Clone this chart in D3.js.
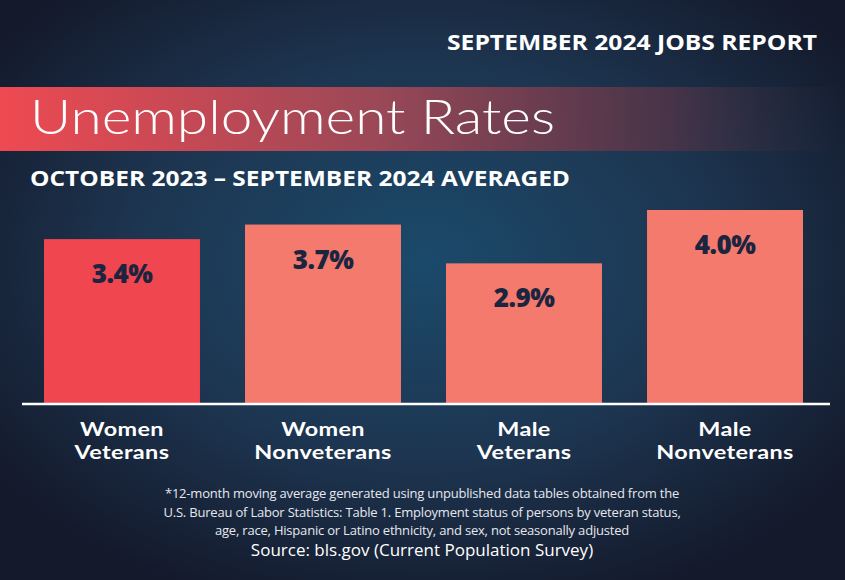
<!DOCTYPE html>
<html><head><meta charset="utf-8">
<script src="https://cdn.jsdelivr.net/npm/d3@7"></script>
<style>html,body{margin:0;padding:0;background:#151b2d;}svg{display:block;}</style>
</head><body>
<script>
const categories = [["Women","Veterans"],["Women","Nonveterans"],["Male","Veterans"],["Male","Nonveterans"]];
const values = [3.4, 3.7, 2.9, 4.0];
const valueLabels = ["3.4%","3.7%","2.9%","4.0%"];
const barColors = ["#ef4650","#f37a6d","#f37a6d","#f37a6d"];
const footnoteLines = [
 "*12-month moving average generated using unpublished data tables obtained from the",
 "U.S. Bureau of Labor Statistics: Table 1. Employment status of persons by veteran status,",
 "age, race, Hispanic or Latino ethnicity, and sex, not seasonally adjusted"
];

const W = 845, H = 580;
const svg = d3.select("body").append("svg").attr("width", W).attr("height", H);
const defs = svg.append("defs");
const rg = defs.append("radialGradient").attr("id","bg").attr("cx","0.5").attr("cy","0.45").attr("r","0.62");
rg.append("stop").attr("offset","0").attr("stop-color","#1b4a6b");
rg.append("stop").attr("offset","0.55").attr("stop-color","#1d3550");
rg.append("stop").attr("offset","1").attr("stop-color","#141a2c");
svg.append("rect").attr("width",W).attr("height",H).attr("fill","url(#bg)");

const lg = defs.append("linearGradient").attr("id","banner").attr("x1","0").attr("x2","1");
lg.append("stop").attr("offset","0").attr("stop-color","#ee4a52").attr("stop-opacity",1);
lg.append("stop").attr("offset","0.45").attr("stop-color","#9a4857").attr("stop-opacity",1);
lg.append("stop").attr("offset","0.8").attr("stop-color","#4a3448").attr("stop-opacity",0.9);
lg.append("stop").attr("offset","1").attr("stop-color","#2a2a3c").attr("stop-opacity",0);
svg.append("rect").attr("x",0).attr("y",87).attr("width",W).attr("height",64).attr("fill","url(#banner)");

svg.append("text").attr("x",817).attr("y",50).attr("text-anchor","end")
  .attr("fill","#fff").attr("font-family","Open Sans").attr("font-weight",700).attr("font-size",21)
  .attr("textLength",370).attr("lengthAdjust","spacingAndGlyphs")
  .text("SEPTEMBER 2024 JOBS REPORT");
svg.append("text").attr("x",30).attr("y",134)
  .attr("fill","#fff").attr("font-family","Lato").attr("font-weight",300).attr("font-size",48)
  .attr("textLength",525).attr("lengthAdjust","spacingAndGlyphs")
  .text("Unemployment Rates");
svg.append("text").attr("x",30).attr("y",186)
  .attr("fill","#fff").attr("font-family","Open Sans").attr("font-weight",700).attr("font-size",21)
  .attr("textLength",540).attr("lengthAdjust","spacingAndGlyphs")
  .text("OCTOBER 2023 – SEPTEMBER 2024 AVERAGED");

const x = d3.scaleBand().domain(d3.range(values.length)).range([44, 803]).paddingInner(0.224).paddingOuter(0);
const y = d3.scaleLinear().domain([0, 4.0]).range([404, 210]);

const g = svg.append("g");
g.selectAll("rect.bar").data(values).join("rect").attr("class","bar")
  .attr("x",(d,i)=>x(i)).attr("width",x.bandwidth())
  .attr("y",d=>y(d)).attr("height",d=>y(0)-y(d))
  .attr("fill",(d,i)=>barColors[i]);
g.selectAll("text.val").data(values).join("text").attr("class","val")
  .attr("x",(d,i)=>x(i)+x.bandwidth()/2).attr("y",d=>y(d)+44)
  .attr("text-anchor","middle").attr("fill","#1b2540")
  .attr("font-family","Open Sans").attr("font-weight",800).attr("font-size",26)
  .attr("letter-spacing",-0.5)
  .text((d,i)=>valueLabels[i]);

const axis = svg.append("g").attr("transform",`translate(0,${y(0)})`)
  .call(d3.axisBottom(x).tickSize(0).tickFormat(""));
axis.select(".domain").attr("stroke","#fff").attr("stroke-width",2.5).attr("d","M22,0H830");

const catLines = [];
categories.forEach((c,i)=>c.forEach((line,j)=>catLines.push({i,j,line})));
svg.selectAll("text.cat").data(catLines).join("text").attr("class","cat")
  .attr("x",d=>x(d.i)+x.bandwidth()/2).attr("y",d=>435.5+d.j*23.5)
  .attr("text-anchor","middle").attr("fill","#fff")
  .attr("font-family","Lato").attr("font-weight",700).attr("font-size",19.5)
  .attr("letter-spacing",0.3)
  .text(d=>d.line)
  .each(function(){
    const len = this.getComputedTextLength();
    d3.select(this).attr("textLength", len*1.2).attr("lengthAdjust","spacingAndGlyphs");
  });

svg.selectAll("text.fn").data(footnoteLines).join("text").attr("class","fn")
  .attr("x",422).attr("y",(d,i)=>498+i*18.5).attr("text-anchor","middle")
  .attr("fill","#e6e8ee").attr("font-family","Open Sans").attr("font-size",13)
  .attr("letter-spacing",-0.2)
  .text(d=>d);
svg.append("text").attr("x",422).attr("y",556).attr("text-anchor","middle")
  .attr("fill","#fff").attr("font-family","Open Sans").attr("font-weight",500).attr("font-size",17)
  .text("Source: bls.gov (Current Population Survey)");
</script>
</body></html>
